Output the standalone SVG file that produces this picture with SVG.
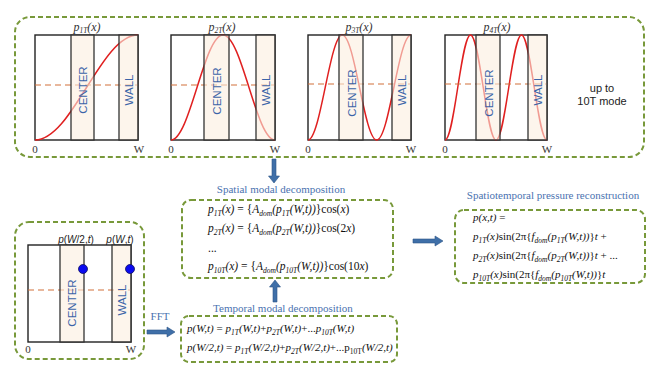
<svg xmlns="http://www.w3.org/2000/svg" width="662" height="372" viewBox="0 0 662 372">
<defs>
<style>
.box{fill:none;stroke:#78993a;stroke-width:2;stroke-dasharray:5,3}
.panel{fill:#fff;stroke:#222;stroke-width:1.4}
.band{fill:#fbefdf;fill-opacity:0.6;stroke:#333;stroke-width:1.3}
.curve{fill:none;stroke:#e02020;stroke-width:1.5}
.mid{fill:none;stroke:#d2703a;stroke-width:1.2;stroke-dasharray:6,4}
.lbl{font-family:"Liberation Sans",Arial,sans-serif;font-size:11.5px;fill:#3b64a8}
.axis{font-family:"Liberation Serif","Times New Roman",serif;font-size:11px;fill:#333}
.ptitle{font-family:"Liberation Serif","Times New Roman",serif;font-size:12px;font-style:italic;fill:#333}
.title{font-family:"Liberation Serif","Times New Roman",serif;font-size:11px;fill:#4a72b0}
.eq{font-family:"Liberation Serif","Times New Roman",serif;font-size:11px;font-style:italic;fill:#111}
.eqs{font-size:11.5px}
.up{font-style:normal}
.sub{font-size:7.5px}
.arrow{fill:#3f6fa8;stroke:#2d5587;stroke-width:0.6}
.note{font-family:"Liberation Sans",Arial,sans-serif;font-size:11px;fill:#222}
.dot{fill:#0a0af0;stroke:#101060;stroke-width:0.8}
.plab{font-family:"Liberation Sans",Arial,sans-serif;font-size:10px;fill:#222}
</style>
</defs>

<g id="modes">
<rect class="box" x="15" y="17" width="629" height="140" rx="15"/>
<g id="mode1">
<text class="ptitle" x="87" y="31" text-anchor="middle">p<tspan class="sub" dy="2">1T</tspan><tspan dy="-2">(x)</tspan></text>
<rect class="panel" x="35" y="35" width="103" height="105"/>
<path class="curve" d="M35,140 C72.4,140 100.6,35 138,35"/>
<line class="mid" x1="35" y1="85" x2="138" y2="85"/>
<rect class="band" x="71" y="35" width="23" height="105"/>
<rect class="band" x="119" y="35" width="19" height="105"/>
<text class="lbl" transform="translate(86.5,90) rotate(-90)" text-anchor="middle">CENTER</text>
<text class="lbl" transform="translate(132.5,90) rotate(-90)" text-anchor="middle">WALL</text>
<text class="axis" x="35" y="153" text-anchor="middle">0</text>
<text class="axis" x="139" y="153" text-anchor="middle">W</text>
</g>
<g id="mode2">
<text class="ptitle" x="222" y="31" text-anchor="middle">p<tspan class="sub" dy="2">2T</tspan><tspan dy="-2">(x)</tspan></text>
<rect class="panel" x="171" y="35" width="104" height="105"/>
<path class="curve" d="M171,140 C189.9,140 204.1,35 223,35 C241.9,35 256.1,140 275,140"/>
<line class="mid" x1="171" y1="85" x2="275" y2="85"/>
<rect class="band" x="204" y="35" width="25" height="105"/>
<rect class="band" x="256" y="35" width="19" height="105"/>
<text class="lbl" transform="translate(220.5,91) rotate(-90)" text-anchor="middle">CENTER</text>
<text class="lbl" transform="translate(269.5,90) rotate(-90)" text-anchor="middle">WALL</text>
<text class="axis" x="171" y="153" text-anchor="middle">0</text>
<text class="axis" x="275" y="153" text-anchor="middle">W</text>
</g>
<g id="mode3">
<text class="ptitle" x="359" y="31" text-anchor="middle">p<tspan class="sub" dy="2">3T</tspan><tspan dy="-2">(x)</tspan></text>
<rect class="panel" x="308" y="35" width="103" height="105"/>
<path class="curve" d="M308,140 C320.5,140 329.9,35 342.3,35 C354.8,35 364.2,140 376.7,140 C389.2,140 398.5,35 411,35"/>
<line class="mid" x1="308" y1="84" x2="411" y2="84"/>
<rect class="band" x="339" y="35" width="24" height="105"/>
<rect class="band" x="392" y="35" width="19" height="105"/>
<text class="lbl" transform="translate(355.5,93) rotate(-90)" text-anchor="middle">CENTER</text>
<text class="lbl" transform="translate(405.5,90) rotate(-90)" text-anchor="middle">WALL</text>
<text class="axis" x="308" y="153" text-anchor="middle">0</text>
<text class="axis" x="411" y="153" text-anchor="middle">W</text>
</g>
<g id="mode4">
<text class="ptitle" x="497" y="31" text-anchor="middle">p<tspan class="sub" dy="2">4T</tspan><tspan dy="-2">(x)</tspan></text>
<rect class="panel" x="445" y="35" width="102" height="105"/>
<path class="curve" d="M445,140 C454.3,140 461.2,35 470.5,35 C479.8,35 486.7,140 496,140 C505.3,140 512.2,35 521.5,35 C530.8,35 537.7,140 547,140"/>
<line class="mid" x1="445" y1="84" x2="547" y2="84"/>
<rect class="band" x="476" y="35" width="24" height="105"/>
<rect class="band" x="528" y="35" width="19" height="105"/>
<text class="lbl" transform="translate(492.5,93) rotate(-90)" text-anchor="middle">CENTER</text>
<text class="lbl" transform="translate(541.5,90) rotate(-90)" text-anchor="middle">WALL</text>
<text class="axis" x="445" y="153" text-anchor="middle">0</text>
<text class="axis" x="547" y="153" text-anchor="middle">W</text>
</g>
<text class="note" x="602" y="92" text-anchor="middle">up to</text>
<text class="note" x="602" y="105" text-anchor="middle">10T mode</text>
</g>

<g id="probe">
<rect class="box" x="15" y="222" width="129" height="137" rx="14"/>
<text class="plab" x="76" y="243" text-anchor="middle"><tspan font-style="italic">p</tspan>(<tspan font-style="italic">W</tspan>/2,<tspan font-style="italic">t</tspan>)</text>
<text class="plab" x="120" y="243" text-anchor="middle"><tspan font-style="italic">p</tspan>(<tspan font-style="italic">W</tspan>,<tspan font-style="italic">t</tspan>)</text>
<rect class="panel" x="28" y="245" width="103" height="97"/>
<line class="mid" x1="28" y1="290" x2="131" y2="290"/>
<rect class="band" x="60" y="245" width="24" height="97"/>
<rect class="band" x="112" y="245" width="19" height="97"/>
<text class="lbl" transform="translate(76,303) rotate(-90)" text-anchor="middle">CENTER</text>
<text class="lbl" transform="translate(125.5,300) rotate(-90)" text-anchor="middle">WALL</text>
<circle class="dot" cx="83" cy="269" r="4.5"/>
<circle class="dot" cx="130" cy="269" r="4.5"/>
<text class="axis" x="28" y="353" text-anchor="middle">0</text>
<text class="axis" x="131" y="353" text-anchor="middle">W</text>
</g>

<g id="spatial">
<text class="title" x="281" y="193" text-anchor="middle">Spatial modal decomposition</text>
<rect class="box" x="182" y="200" width="211" height="78" rx="9"/>
<text class="eq eqs" x="208" y="213">p<tspan class="sub" dy="3">1T</tspan><tspan dy="-3">(x)</tspan><tspan class="up"> = {</tspan>A<tspan class="sub" dy="3">dom</tspan><tspan dy="-3">(p</tspan><tspan class="sub" dy="3">1T</tspan><tspan dy="-3">(W,t))</tspan><tspan class="up">}cos(</tspan>x<tspan class="up">)</tspan></text>
<text class="eq eqs" x="208" y="232">p<tspan class="sub" dy="3">2T</tspan><tspan dy="-3">(x)</tspan><tspan class="up"> = {</tspan>A<tspan class="sub" dy="3">dom</tspan><tspan dy="-3">(p</tspan><tspan class="sub" dy="3">2T</tspan><tspan dy="-3">(W,t))</tspan><tspan class="up">}cos(2</tspan>x<tspan class="up">)</tspan></text>
<text class="eq eqs up" x="208" y="252">...</text>
<text class="eq eqs" x="208" y="270">p<tspan class="sub" dy="3">10T</tspan><tspan dy="-3">(x)</tspan><tspan class="up"> = {</tspan>A<tspan class="sub" dy="3">dom</tspan><tspan dy="-3">(p</tspan><tspan class="sub" dy="3">10T</tspan><tspan dy="-3">(W,t))</tspan><tspan class="up">}cos(10</tspan>x<tspan class="up">)</tspan></text>
</g>

<g id="temporal">
<text class="title" x="283" y="312" text-anchor="middle">Temporal modal decomposition</text>
<rect class="box" x="181" y="316" width="216" height="46" rx="8"/>
<text class="eq" x="187" y="332">p(W,t)<tspan class="up"> = </tspan>p<tspan class="sub" dy="3">1T</tspan><tspan dy="-3">(W,t)</tspan><tspan class="up">+</tspan>p<tspan class="sub" dy="3">2T</tspan><tspan dy="-3">(W,t)</tspan><tspan class="up">+...</tspan>p<tspan class="sub" dy="3">10T</tspan><tspan dy="-3">(W,t)</tspan></text>
<text class="eq" x="187" y="351">p(W/2,t)<tspan class="up"> = </tspan>p<tspan class="sub" dy="3">1T</tspan><tspan dy="-3">(W/2,t)</tspan><tspan class="up">+</tspan>p<tspan class="sub" dy="3">2T</tspan><tspan dy="-3">(W/2,t)</tspan><tspan class="up">+...p</tspan><tspan class="sub up" dy="3">10T</tspan><tspan dy="-3">(W/2,t)</tspan></text>
</g>

<g id="reconstruction">
<text class="title" x="553" y="199" text-anchor="middle">Spatiotemporal pressure reconstruction</text>
<rect class="box" x="455" y="210" width="190" height="73" rx="9"/>
<text class="eq" x="473" y="221">p(x,t)<tspan class="up"> =</tspan></text>
<text class="eq" x="473" y="240">p<tspan class="sub" dy="3">1T</tspan><tspan dy="-3">(x)</tspan><tspan class="up">sin(2π{</tspan>f<tspan class="sub" dy="3">dom</tspan><tspan dy="-3">(p</tspan><tspan class="sub" dy="3">1T</tspan><tspan dy="-3">(W,t))</tspan><tspan class="up">}</tspan>t<tspan class="up"> +</tspan></text>
<text class="eq" x="473" y="259">p<tspan class="sub" dy="3">2T</tspan><tspan dy="-3">(x)</tspan><tspan class="up">sin(2π{</tspan>f<tspan class="sub" dy="3">dom</tspan><tspan dy="-3">(p</tspan><tspan class="sub" dy="3">2T</tspan><tspan dy="-3">(W,t))</tspan><tspan class="up">}</tspan>t<tspan class="up"> + ...</tspan></text>
<text class="eq" x="473" y="278">p<tspan class="sub" dy="3">10T</tspan><tspan dy="-3">(x)</tspan><tspan class="up">sin(2π{</tspan>f<tspan class="sub" dy="3">dom</tspan><tspan dy="-3">(p</tspan><tspan class="sub" dy="3">10T</tspan><tspan dy="-3">(W,t))</tspan><tspan class="up">}</tspan>t</text>
</g>

<g id="connectors">
<path class="arrow" d="M272,159 H276 V176 H279.5 L274,183 L268.5,176 H272 Z"/>
<path class="arrow" d="M273,302 H277 V287 H280.5 L275,280 L269.5,287 H273 Z"/>
<path class="arrow" d="M413,239 H435 V236 L443,241 L435,246 V243 H413 Z"/>
<path class="arrow" d="M147,330 H167 V327 L175,332 L167,337 V334 H147 Z"/>
<text class="title" x="160" y="320" text-anchor="middle">FFT</text>
</g>
</svg>
